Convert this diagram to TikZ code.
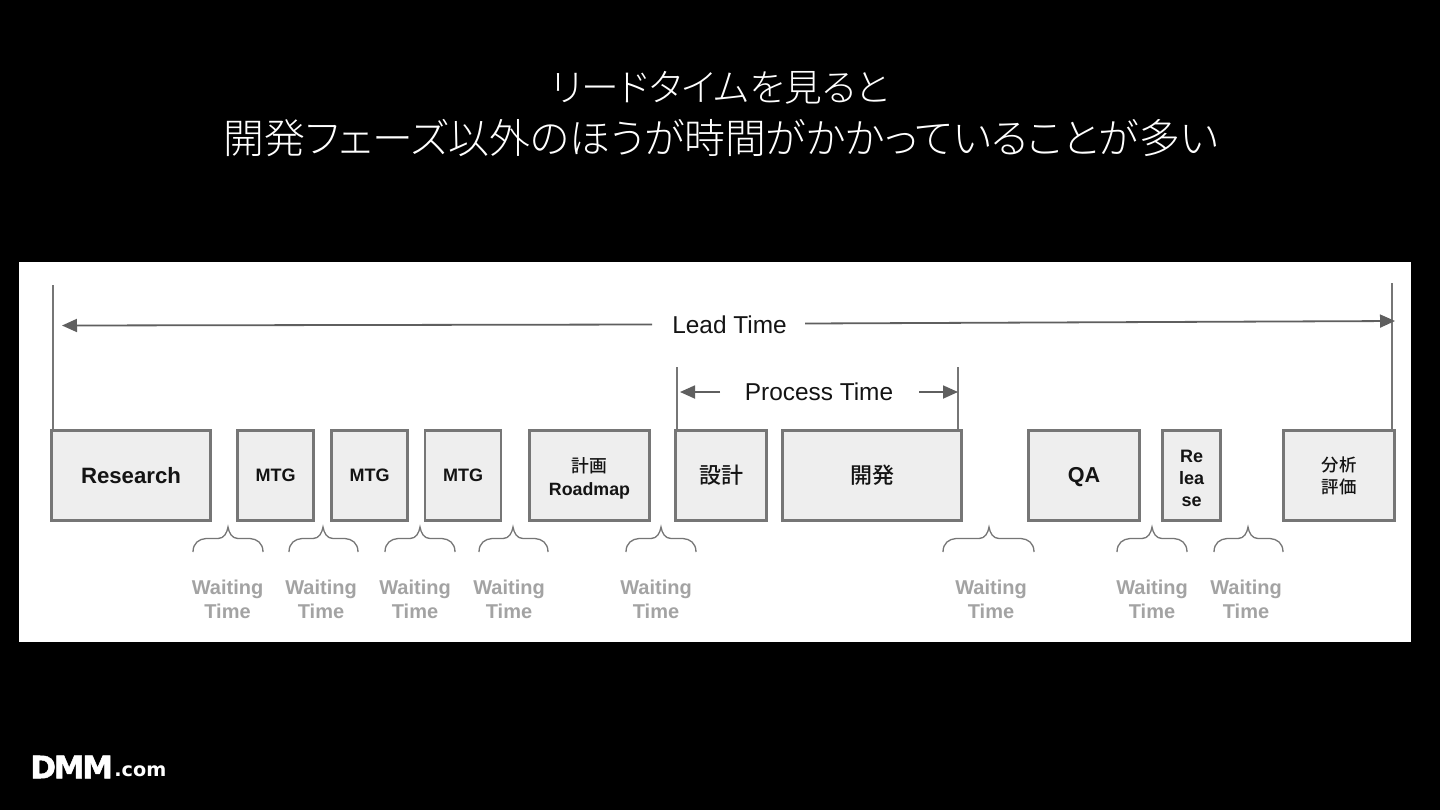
\documentclass[tikz,border=0pt]{standalone}
\usepackage{fontspec}
\usetikzlibrary{arrows.meta}
\setmainfont{Liberation Sans}
\newfontfamily\cjk{Noto Sans CJK JP Medium}
\newfontfamily\cjktitle[RawFeature=+palt]{Noto Sans CJK JP Light}
\newfontfamily\logofont{DejaVu Sans}
\newfontfamily\dmmfont[FakeBold=1.6]{DejaVu Sans Bold}
\definecolor{edgegray}{HTML}{767676}
\definecolor{fillgray}{HTML}{EEEEEE}
\definecolor{waitgray}{HTML}{A3A3A3}
\definecolor{arrowgray}{HTML}{5F5F5F}
\definecolor{inkdark}{HTML}{141414}
\tikzset{
  procbox/.style={draw=edgegray,fill=fillgray,line width=1.3pt,rectangle,inner sep=0pt,align=center,text=inkdark,font=\bfseries},
  leader/.style={draw=edgegray,line width=0.85pt},
  spanarrow/.style={draw=arrowgray,line width=0.9pt,-{Triangle[length=7.5pt,width=6.5pt]}},
  spanlabel/.style={text=inkdark,inner sep=0pt,font=\fontsize{12.2}{14}\selectfont},
  waitlabel/.style={text=waitgray,inner sep=0pt,align=center,font=\fontsize{10}{12}\selectfont\bfseries},
  bracepath/.style={draw=edgegray,line width=0.65pt},
  titleone/.style={text=white,inner sep=0pt,font=\cjktitle\fontsize{18.85}{24}\selectfont},
  titletwo/.style={text=white,inner sep=0pt,font=\cjktitle\fontsize{20.4}{24}\selectfont}
}
\begin{document}
\begin{tikzpicture}[x=0.5pt,y=-0.5pt]
\useasboundingbox (0,0) rectangle (1440,810);
\fill[black] (0,0) rectangle (1440,810);
\fill[white] (19,262) rectangle (1411,642);
% title
\node[titleone] (t1) at (720,88) {リードタイムを見ると};
\node[titletwo] (t2) at (721,138) {開発フェーズ以外のほうが時間がかかっていることが多い};
% boxes
\node[procbox,minimum width=79.5pt,minimum height=45pt,font=\bfseries\fontsize{11.1}{13}\selectfont] (research) at (131,475.5) {Research};
\node[procbox,minimum width=38pt,minimum height=45pt,text height=6.2pt,text depth=0pt,font=\bfseries\fontsize{9}{11}\selectfont] (mtga) at (275.5,475.5) {MTG};
\node[procbox,minimum width=38pt,minimum height=45pt,text height=6.2pt,text depth=0pt,font=\bfseries\fontsize{9}{11}\selectfont] (mtgb) at (369.5,475.5) {MTG};
\node[procbox,minimum width=38pt,minimum height=45pt,text height=6.2pt,text depth=0pt,font=\bfseries\fontsize{9}{11}\selectfont] (mtgc) at (463,475.5) {MTG};
\node[procbox,minimum width=60pt,minimum height=45pt,font=\bfseries\fontsize{8.9}{11.4}\selectfont] (road) at (589.5,475.5) {\rule{0pt}{10pt}{\cjk\mdseries 計画}\\Roadmap};
\node[procbox,minimum width=45.5pt,minimum height=45pt,font=\cjk\fontsize{11}{13}\selectfont] (sekkei) at (721,475.5) {設計};
\node[procbox,minimum width=89.5pt,minimum height=45pt,font=\cjk\fontsize{11}{13}\selectfont] (kaihatsu) at (872,475.5) {開発};
\node[procbox,minimum width=55.5pt,minimum height=45pt,text height=7.4pt,text depth=0pt,font=\bfseries\fontsize{10.8}{13}\selectfont] (qa) at (1084,475.5) {QA};
\node[procbox,minimum width=29pt,minimum height=45pt,font=\bfseries\fontsize{9}{11}\selectfont] (rel) at (1191.5,475.5) {\rule{0pt}{9.5pt}Re\\lea\\se};
\node[procbox,minimum width=55.5pt,minimum height=45pt,font=\cjk\fontsize{8.7}{11}\selectfont] (bunseki) at (1339,475.5) {分析\\評価};
% labels
\node[spanlabel] (lead) at (729.5,324.5) {Lead Time};
\node[spanlabel] (process) at (819,391.5) {Process Time};
% free ends
\coordinate (lt) at (53,285);
\coordinate (rt) at (1392,283);
\coordinate (plt) at (677,367);
\coordinate (prt) at (958,367);
\coordinate (la) at (62,325.5);
\coordinate (ra) at (1395,321);
\coordinate (pla) at (680,392);
\coordinate (pra) at (958,392);
\coordinate (ls) at (652,324.5);
\coordinate (rs) at (805,323.5);
\coordinate (pls) at (720,392);
\coordinate (prs) at (919,392);
% leaders
\draw[leader] (lt) -- (lt |- research.north);
\draw[leader] (rt) -- (rt |- bunseki.north);
\draw[leader] (plt) -- (plt |- sekkei.north);
\draw[leader] (prt) -- (prt |- kaihatsu.north);
% arrows
\draw[spanarrow] (ls) -- (la);
\draw[spanarrow] (rs) -- (ra);
\draw[spanarrow] (pls) -- (pla);
\draw[spanarrow] (prs) -- (pra);
% braces and waiting labels
\foreach \xa/\xt/\xb/\lx/\nm in {193/228/263/227.5/a,289/323/358/321/b,385/420/455/415/c,479/513/548/509/d,626/661/696/656/e,943/989/1034/991/f,1117/1152/1187/1152/g,1214/1248/1283/1246/h}{
  \draw[bracepath] (\xa,552) .. controls (\xa,543) and (\xa+6,539) .. (\xa+13,538.5)
    -- (\xt-10,538.5) .. controls (\xt-4,538.5) and (\xt-1,533) .. (\xt,527)
    .. controls (\xt+1,533) and (\xt+4,538.5) .. (\xt+10,538.5)
    -- (\xb-13,538.5) .. controls (\xb-6,539) and (\xb,543) .. (\xb,552);
  \node[waitlabel] (wait\nm) at (\lx,599) {Waiting\\Time};
}
% logo
\node[text=white,inner sep=0pt,anchor=west,font=\dmmfont\fontsize{15.5}{17}\selectfont] (dmm) at (30,767) {D\kern-1.2pt M\kern-1.2pt M};
\node[text=white,inner sep=0pt,anchor=west,font=\logofont\bfseries\fontsize{9.6}{12}\selectfont] (dotcom) at (114,771) {.com};
\end{tikzpicture}
\end{document}
